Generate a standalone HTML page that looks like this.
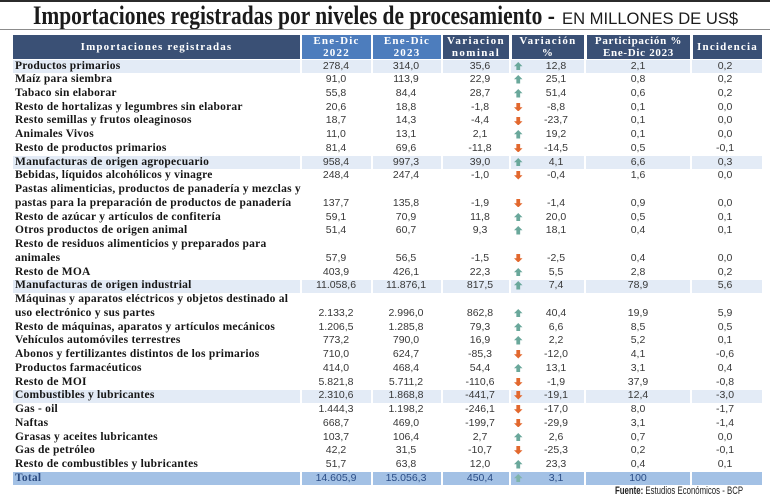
<!DOCTYPE html>
<html><head><meta charset="utf-8">
<style>
body{margin:0;background:#fff}
#w{position:relative;width:770px;height:501px;overflow:hidden;background:#fff}
.topline{position:absolute;left:0;top:0;width:770px;height:2px;background:#2b2b2b}
.title{position:absolute;left:33px;top:3.4px;font:bold 26px/26px "Liberation Serif",serif;transform:scaleX(.825);transform-origin:0 0;white-space:nowrap;color:#1b1b1b}
.sub{position:absolute;left:562px;top:10.6px;font:16.6px/16px "Liberation Sans",sans-serif;white-space:nowrap;color:#1b1b1b}
.gl{position:absolute;left:0;top:29px;width:770px;height:1px;background:#8c8c8c}
.h{position:absolute;top:35px;height:24px;color:#fff;font:bold 11px/12px "Liberation Serif",serif;text-align:center;letter-spacing:1.2px;white-space:nowrap}
.dk{background:#3a5075}.md{background:#4d7dbd}
.r{position:absolute;left:0;width:770px}
.l{position:absolute;left:15px;top:0;font:bold 11.5px/13.74px "Liberation Serif",serif;letter-spacing:.23px;white-space:nowrap;color:#161616}
.n{position:absolute;bottom:0;height:13.74px;line-height:13.74px;font:10.5px "Liberation Sans",sans-serif;color:#383838;text-align:center;white-space:nowrap}
.a{left:301px;width:70px}.b{left:371px;width:70px}.c{left:445px;width:70px}.e{left:526px;width:60px}.f{left:598px;width:80px}.g{left:695px;width:60px}
.ar{position:absolute;left:514px;bottom:3.2px;width:8.5px;height:8.5px}
.hl::before,.tot::before{content:"";position:absolute;left:13px;width:749px;top:.5px;bottom:.5px}
.hl::before{background:linear-gradient(to right,#e3ebf6 0 287px,#fff 287px 289px,#e3ebf6 289px 358px,#fff 358px 360px,#e3ebf6 360px 428px,#fff 428px 430px,#e3ebf6 430px 496px,#fff 496px 498px,#e3ebf6 498px 571px,#fff 571px 573px,#e3ebf6 573px 677px,#fff 677px 679px,#e3ebf6 679px 749px)}
.tot::before{background:linear-gradient(to right,#a3c1e5 0 287px,#fff 287px 289px,#a3c1e5 289px 358px,#fff 358px 360px,#a3c1e5 360px 428px,#fff 428px 430px,#a3c1e5 430px 496px,#fff 496px 498px,#a3c1e5 498px 571px,#fff 571px 573px,#a3c1e5 573px 677px,#fff 677px 679px,#a3c1e5 679px 749px)}
.tot .l{color:#2d4d82}
.tot .n{color:#2a4c85}
.src{position:absolute;left:615px;top:486px;font:11px/11px "Liberation Sans",sans-serif;transform:scaleX(.71);transform-origin:0 0;color:#222;white-space:nowrap}
</style></head><body>
<div id="w">
<div class="topline"></div>
<div class="title">Importaciones registradas por niveles de procesamiento -</div>
<div class="sub">EN MILLONES DE US$</div>
<div class="gl"></div>

<div class="h dk" style="left:13px;width:287px;line-height:24px;letter-spacing:1.15px">Importaciones registradas</div>
<div class="h md" style="left:302px;width:69px">Ene-Dic<br>2022</div>
<div class="h md" style="left:373px;width:68px">Ene-Dic<br>2023</div>
<div class="h dk" style="left:443px;width:66px;letter-spacing:1.4px">Variacion<br>nominal</div>
<div class="h dk" style="left:512px;width:72px;letter-spacing:1.3px">Variación<br>%</div>
<div class="h dk" style="left:587px;width:103px;letter-spacing:.7px">Participación %<br>Ene-Dic 2023</div>
<div class="h dk" style="left:693px;width:69px;line-height:24px;letter-spacing:1.2px">Incidencia</div>

<div class="r hl" style="top:59.5px;height:13.74px"><div class="l">Productos primarios</div><div class="n a">278,4</div><div class="n b">314,0</div><div class="n c">35,6</div><svg class="ar" viewBox="0 0 9 9"><path d="M4.5 0L9 4.5H6.5V9H2.5V4.5H0Z" fill="#6aa89b"/></svg><div class="n e">12,8</div><div class="n f">2,1</div><div class="n g">0,2</div></div>
<div class="r" style="top:73.24px;height:13.74px"><div class="l">Maíz para siembra</div><div class="n a">91,0</div><div class="n b">113,9</div><div class="n c">22,9</div><svg class="ar" viewBox="0 0 9 9"><path d="M4.5 0L9 4.5H6.5V9H2.5V4.5H0Z" fill="#6aa89b"/></svg><div class="n e">25,1</div><div class="n f">0,8</div><div class="n g">0,2</div></div>
<div class="r" style="top:86.98px;height:13.74px"><div class="l">Tabaco sin elaborar</div><div class="n a">55,8</div><div class="n b">84,4</div><div class="n c">28,7</div><svg class="ar" viewBox="0 0 9 9"><path d="M4.5 0L9 4.5H6.5V9H2.5V4.5H0Z" fill="#6aa89b"/></svg><div class="n e">51,4</div><div class="n f">0,6</div><div class="n g">0,2</div></div>
<div class="r" style="top:100.73px;height:13.74px"><div class="l">Resto de hortalizas y legumbres sin elaborar</div><div class="n a">20,6</div><div class="n b">18,8</div><div class="n c">-1,8</div><svg class="ar" viewBox="0 0 9 9"><path d="M4.5 9L0 4.5H2.5V0H6.5V4.5H9Z" fill="#e2682e"/></svg><div class="n e">-8,8</div><div class="n f">0,1</div><div class="n g">0,0</div></div>
<div class="r" style="top:114.47px;height:13.74px"><div class="l">Resto semillas y frutos oleaginosos</div><div class="n a">18,7</div><div class="n b">14,3</div><div class="n c">-4,4</div><svg class="ar" viewBox="0 0 9 9"><path d="M4.5 9L0 4.5H2.5V0H6.5V4.5H9Z" fill="#e2682e"/></svg><div class="n e">-23,7</div><div class="n f">0,1</div><div class="n g">0,0</div></div>
<div class="r" style="top:128.21px;height:13.74px"><div class="l">Animales Vivos</div><div class="n a">11,0</div><div class="n b">13,1</div><div class="n c">2,1</div><svg class="ar" viewBox="0 0 9 9"><path d="M4.5 0L9 4.5H6.5V9H2.5V4.5H0Z" fill="#6aa89b"/></svg><div class="n e">19,2</div><div class="n f">0,1</div><div class="n g">0,0</div></div>
<div class="r" style="top:141.95px;height:13.74px"><div class="l">Resto de productos primarios</div><div class="n a">81,4</div><div class="n b">69,6</div><div class="n c">-11,8</div><svg class="ar" viewBox="0 0 9 9"><path d="M4.5 9L0 4.5H2.5V0H6.5V4.5H9Z" fill="#e2682e"/></svg><div class="n e">-14,5</div><div class="n f">0,5</div><div class="n g">-0,1</div></div>
<div class="r hl" style="top:155.69px;height:13.74px"><div class="l">Manufacturas de origen agropecuario</div><div class="n a">958,4</div><div class="n b">997,3</div><div class="n c">39,0</div><svg class="ar" viewBox="0 0 9 9"><path d="M4.5 0L9 4.5H6.5V9H2.5V4.5H0Z" fill="#6aa89b"/></svg><div class="n e">4,1</div><div class="n f">6,6</div><div class="n g">0,3</div></div>
<div class="r" style="top:169.44px;height:13.74px"><div class="l">Bebidas, líquidos alcohólicos y vinagre</div><div class="n a">248,4</div><div class="n b">247,4</div><div class="n c">-1,0</div><svg class="ar" viewBox="0 0 9 9"><path d="M4.5 9L0 4.5H2.5V0H6.5V4.5H9Z" fill="#e2682e"/></svg><div class="n e">-0,4</div><div class="n f">1,6</div><div class="n g">0,0</div></div>
<div class="r" style="top:183.18px;height:27.48px"><div class="l">Pastas alimenticias, productos de panadería y mezclas y<br>pastas para la preparación de productos de panadería</div><div class="n a">137,7</div><div class="n b">135,8</div><div class="n c">-1,9</div><svg class="ar" viewBox="0 0 9 9"><path d="M4.5 9L0 4.5H2.5V0H6.5V4.5H9Z" fill="#e2682e"/></svg><div class="n e">-1,4</div><div class="n f">0,9</div><div class="n g">0,0</div></div>
<div class="r" style="top:210.66px;height:13.74px"><div class="l">Resto de azúcar y artículos de confitería</div><div class="n a">59,1</div><div class="n b">70,9</div><div class="n c">11,8</div><svg class="ar" viewBox="0 0 9 9"><path d="M4.5 0L9 4.5H6.5V9H2.5V4.5H0Z" fill="#6aa89b"/></svg><div class="n e">20,0</div><div class="n f">0,5</div><div class="n g">0,1</div></div>
<div class="r" style="top:224.4px;height:13.74px"><div class="l">Otros productos de origen animal</div><div class="n a">51,4</div><div class="n b">60,7</div><div class="n c">9,3</div><svg class="ar" viewBox="0 0 9 9"><path d="M4.5 0L9 4.5H6.5V9H2.5V4.5H0Z" fill="#6aa89b"/></svg><div class="n e">18,1</div><div class="n f">0,4</div><div class="n g">0,1</div></div>
<div class="r" style="top:238.15px;height:27.48px"><div class="l">Resto de residuos alimenticios y preparados para<br>animales</div><div class="n a">57,9</div><div class="n b">56,5</div><div class="n c">-1,5</div><svg class="ar" viewBox="0 0 9 9"><path d="M4.5 9L0 4.5H2.5V0H6.5V4.5H9Z" fill="#e2682e"/></svg><div class="n e">-2,5</div><div class="n f">0,4</div><div class="n g">0,0</div></div>
<div class="r" style="top:265.63px;height:13.74px"><div class="l">Resto de MOA</div><div class="n a">403,9</div><div class="n b">426,1</div><div class="n c">22,3</div><svg class="ar" viewBox="0 0 9 9"><path d="M4.5 0L9 4.5H6.5V9H2.5V4.5H0Z" fill="#6aa89b"/></svg><div class="n e">5,5</div><div class="n f">2,8</div><div class="n g">0,2</div></div>
<div class="r hl" style="top:279.37px;height:13.74px"><div class="l">Manufacturas de origen industrial</div><div class="n a">11.058,6</div><div class="n b">11.876,1</div><div class="n c">817,5</div><svg class="ar" viewBox="0 0 9 9"><path d="M4.5 0L9 4.5H6.5V9H2.5V4.5H0Z" fill="#6aa89b"/></svg><div class="n e">7,4</div><div class="n f">78,9</div><div class="n g">5,6</div></div>
<div class="r" style="top:293.11px;height:27.48px"><div class="l">Máquinas y aparatos eléctricos y objetos destinado al<br>uso electrónico y sus partes</div><div class="n a">2.133,2</div><div class="n b">2.996,0</div><div class="n c">862,8</div><svg class="ar" viewBox="0 0 9 9"><path d="M4.5 0L9 4.5H6.5V9H2.5V4.5H0Z" fill="#6aa89b"/></svg><div class="n e">40,4</div><div class="n f">19,9</div><div class="n g">5,9</div></div>
<div class="r" style="top:320.6px;height:13.74px"><div class="l">Resto de máquinas, aparatos y artículos mecánicos</div><div class="n a">1.206,5</div><div class="n b">1.285,8</div><div class="n c">79,3</div><svg class="ar" viewBox="0 0 9 9"><path d="M4.5 0L9 4.5H6.5V9H2.5V4.5H0Z" fill="#6aa89b"/></svg><div class="n e">6,6</div><div class="n f">8,5</div><div class="n g">0,5</div></div>
<div class="r" style="top:334.34px;height:13.74px"><div class="l">Vehículos automóviles terrestres</div><div class="n a">773,2</div><div class="n b">790,0</div><div class="n c">16,9</div><svg class="ar" viewBox="0 0 9 9"><path d="M4.5 0L9 4.5H6.5V9H2.5V4.5H0Z" fill="#6aa89b"/></svg><div class="n e">2,2</div><div class="n f">5,2</div><div class="n g">0,1</div></div>
<div class="r" style="top:348.08px;height:13.74px"><div class="l">Abonos y fertilizantes distintos de los primarios</div><div class="n a">710,0</div><div class="n b">624,7</div><div class="n c">-85,3</div><svg class="ar" viewBox="0 0 9 9"><path d="M4.5 9L0 4.5H2.5V0H6.5V4.5H9Z" fill="#e2682e"/></svg><div class="n e">-12,0</div><div class="n f">4,1</div><div class="n g">-0,6</div></div>
<div class="r" style="top:361.82px;height:13.74px"><div class="l">Productos farmacéuticos</div><div class="n a">414,0</div><div class="n b">468,4</div><div class="n c">54,4</div><svg class="ar" viewBox="0 0 9 9"><path d="M4.5 0L9 4.5H6.5V9H2.5V4.5H0Z" fill="#6aa89b"/></svg><div class="n e">13,1</div><div class="n f">3,1</div><div class="n g">0,4</div></div>
<div class="r" style="top:375.57px;height:13.74px"><div class="l">Resto de MOI</div><div class="n a">5.821,8</div><div class="n b">5.711,2</div><div class="n c">-110,6</div><svg class="ar" viewBox="0 0 9 9"><path d="M4.5 9L0 4.5H2.5V0H6.5V4.5H9Z" fill="#e2682e"/></svg><div class="n e">-1,9</div><div class="n f">37,9</div><div class="n g">-0,8</div></div>
<div class="r hl" style="top:389.31px;height:13.74px"><div class="l">Combustibles y lubricantes</div><div class="n a">2.310,6</div><div class="n b">1.868,8</div><div class="n c">-441,7</div><svg class="ar" viewBox="0 0 9 9"><path d="M4.5 9L0 4.5H2.5V0H6.5V4.5H9Z" fill="#e2682e"/></svg><div class="n e">-19,1</div><div class="n f">12,4</div><div class="n g">-3,0</div></div>
<div class="r" style="top:403.05px;height:13.74px"><div class="l">Gas - oil</div><div class="n a">1.444,3</div><div class="n b">1.198,2</div><div class="n c">-246,1</div><svg class="ar" viewBox="0 0 9 9"><path d="M4.5 9L0 4.5H2.5V0H6.5V4.5H9Z" fill="#e2682e"/></svg><div class="n e">-17,0</div><div class="n f">8,0</div><div class="n g">-1,7</div></div>
<div class="r" style="top:416.79px;height:13.74px"><div class="l">Naftas</div><div class="n a">668,7</div><div class="n b">469,0</div><div class="n c">-199,7</div><svg class="ar" viewBox="0 0 9 9"><path d="M4.5 9L0 4.5H2.5V0H6.5V4.5H9Z" fill="#e2682e"/></svg><div class="n e">-29,9</div><div class="n f">3,1</div><div class="n g">-1,4</div></div>
<div class="r" style="top:430.53px;height:13.74px"><div class="l">Grasas y aceites lubricantes</div><div class="n a">103,7</div><div class="n b">106,4</div><div class="n c">2,7</div><svg class="ar" viewBox="0 0 9 9"><path d="M4.5 0L9 4.5H6.5V9H2.5V4.5H0Z" fill="#6aa89b"/></svg><div class="n e">2,6</div><div class="n f">0,7</div><div class="n g">0,0</div></div>
<div class="r" style="top:444.28px;height:13.74px"><div class="l">Gas de petróleo</div><div class="n a">42,2</div><div class="n b">31,5</div><div class="n c">-10,7</div><svg class="ar" viewBox="0 0 9 9"><path d="M4.5 9L0 4.5H2.5V0H6.5V4.5H9Z" fill="#e2682e"/></svg><div class="n e">-25,3</div><div class="n f">0,2</div><div class="n g">-0,1</div></div>
<div class="r" style="top:458.02px;height:13.74px"><div class="l">Resto de combustibles y lubricantes</div><div class="n a">51,7</div><div class="n b">63,8</div><div class="n c">12,0</div><svg class="ar" viewBox="0 0 9 9"><path d="M4.5 0L9 4.5H6.5V9H2.5V4.5H0Z" fill="#6aa89b"/></svg><div class="n e">23,3</div><div class="n f">0,4</div><div class="n g">0,1</div></div>
<div class="r tot" style="top:471.76px;height:13.74px"><div class="l">Total</div><div class="n a">14.605,9</div><div class="n b">15.056,3</div><div class="n c">450,4</div><svg class="ar" viewBox="0 0 9 9"><path d="M4.5 0L9 4.5H6.5V9H2.5V4.5H0Z" fill="#7fb3ab"/></svg><div class="n e">3,1</div><div class="n f">100</div><div class="n g"></div></div>

<div class="src"><b>Fuente:</b> Estudios Económicos - BCP</div>
</div>
</body></html>
